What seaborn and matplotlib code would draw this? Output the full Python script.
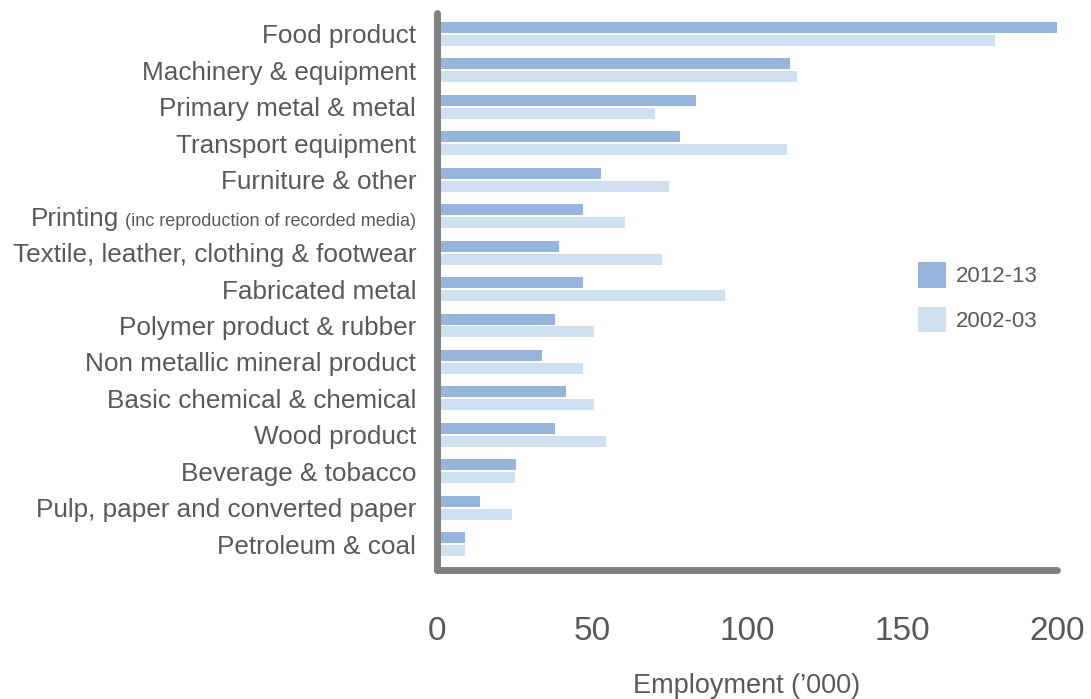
import matplotlib
matplotlib.use("Agg")
import matplotlib.pyplot as plt
import matplotlib.transforms as mtrans
import seaborn as sns
import pandas as pd
from matplotlib.patches import Patch

categories = [
    "Food product",
    "Machinery & equipment",
    "Primary metal & metal",
    "Transport equipment",
    "Furniture & other",
    "Printing",
    "Textile, leather, clothing & footwear",
    "Fabricated metal",
    "Polymer product & rubber",
    "Non metallic mineral product",
    "Basic chemical & chemical",
    "Wood product",
    "Beverage & tobacco",
    "Pulp, paper and converted paper",
    "Petroleum & coal",
]
emp_2012 = [200, 114, 83.5, 78.3, 53, 47, 39.5, 47, 38, 34, 41.5, 38, 25.6, 14, 9]
emp_2002 = [180, 116, 70.2, 113, 74.8, 60.5, 72.5, 93, 50.5, 47, 50.5, 54.5, 25, 24.3, 9]
periods = ["2012-13", "2002-03"]
printing_note = "(inc reproduction of recorded media)"
x_ticks = [0, 50, 100, 150, 200]

dark = "#97b5dc"
light = "#cfe0f1"
spine_col = "#808185"
text_col = "#58595b"

df = pd.DataFrame({
    "category": categories * 2,
    "value": emp_2012 + emp_2002,
    "period": [periods[0]] * len(categories) + [periods[1]] * len(categories),
})

sns.set_theme(style="white")
plt.rcParams["font.family"] = ["Liberation Sans", "DejaVu Sans"]

fig = plt.figure(figsize=(10.91, 6.99), dpi=100)
ax = fig.add_axes([437 / 1091, 1 - 570 / 699, (1057 - 437) / 1091, (570 - 13) / 699])

sns.barplot(data=df, y="category", x="value", hue="period", palette=[dark, light],
            orient="h", width=0.71, gap=0.15, ax=ax, legend=False, linewidth=0,
            saturation=1)

ax.set_xlim(0, 200)
ax.set_ylim(14.71, -0.575)
ax.set_xticks(x_ticks)
ax.set_xticklabels([str(t) for t in x_ticks])
ax.set_ylabel("")
ax.set_xlabel("Employment (\u2019000)", fontsize=19.5, color=text_col, labelpad=19)

ax.tick_params(axis="x", length=0, pad=33, labelsize=24, labelcolor=text_col)
ax.tick_params(axis="y", length=0, pad=15, labelsize=18.8, labelcolor=text_col)

for s in ["top", "right"]:
    ax.spines[s].set_visible(False)
for s in ["left", "bottom"]:
    ax.spines[s].set_color(spine_col)
    ax.spines[s].set_linewidth(5.0)
    ax.spines[s].set_capstyle("round")

# Printing label with smaller note (baselines aligned)
labels = ax.get_yticklabels()
idx = categories.index("Printing")
new = [l.get_text() for l in labels]
new[idx] = ""
ax.set_yticklabels(new)

off = mtrans.offset_copy(ax.get_yaxis_transform(), fig=fig, x=-21, y=-9.5, units="dots")
note = ax.text(0, idx, printing_note, transform=off, ha="right", va="baseline",
               fontsize=13, color=text_col,
               family=["Liberation Sans Narrow", "Liberation Sans", "DejaVu Sans"])
ax.annotate("Printing", xy=(0, 0), xycoords=note, xytext=(-4, -1.2),
            textcoords="offset points", ha="right", va="bottom",
            fontsize=18.8, color=text_col, annotation_clip=False)

handles = [Patch(facecolor=dark, edgecolor="none"), Patch(facecolor=light, edgecolor="none")]
fig.legend(handles, periods, loc="upper left", bbox_to_anchor=(918 / 1091, 1 - 262 / 699),
           frameon=False, fontsize=16, labelcolor=text_col, handlelength=1.25,
           handleheight=1.4, handletextpad=0.45, labelspacing=0.85, borderpad=0,
           borderaxespad=0)

fig.savefig("out.png", dpi=100, facecolor="white")
